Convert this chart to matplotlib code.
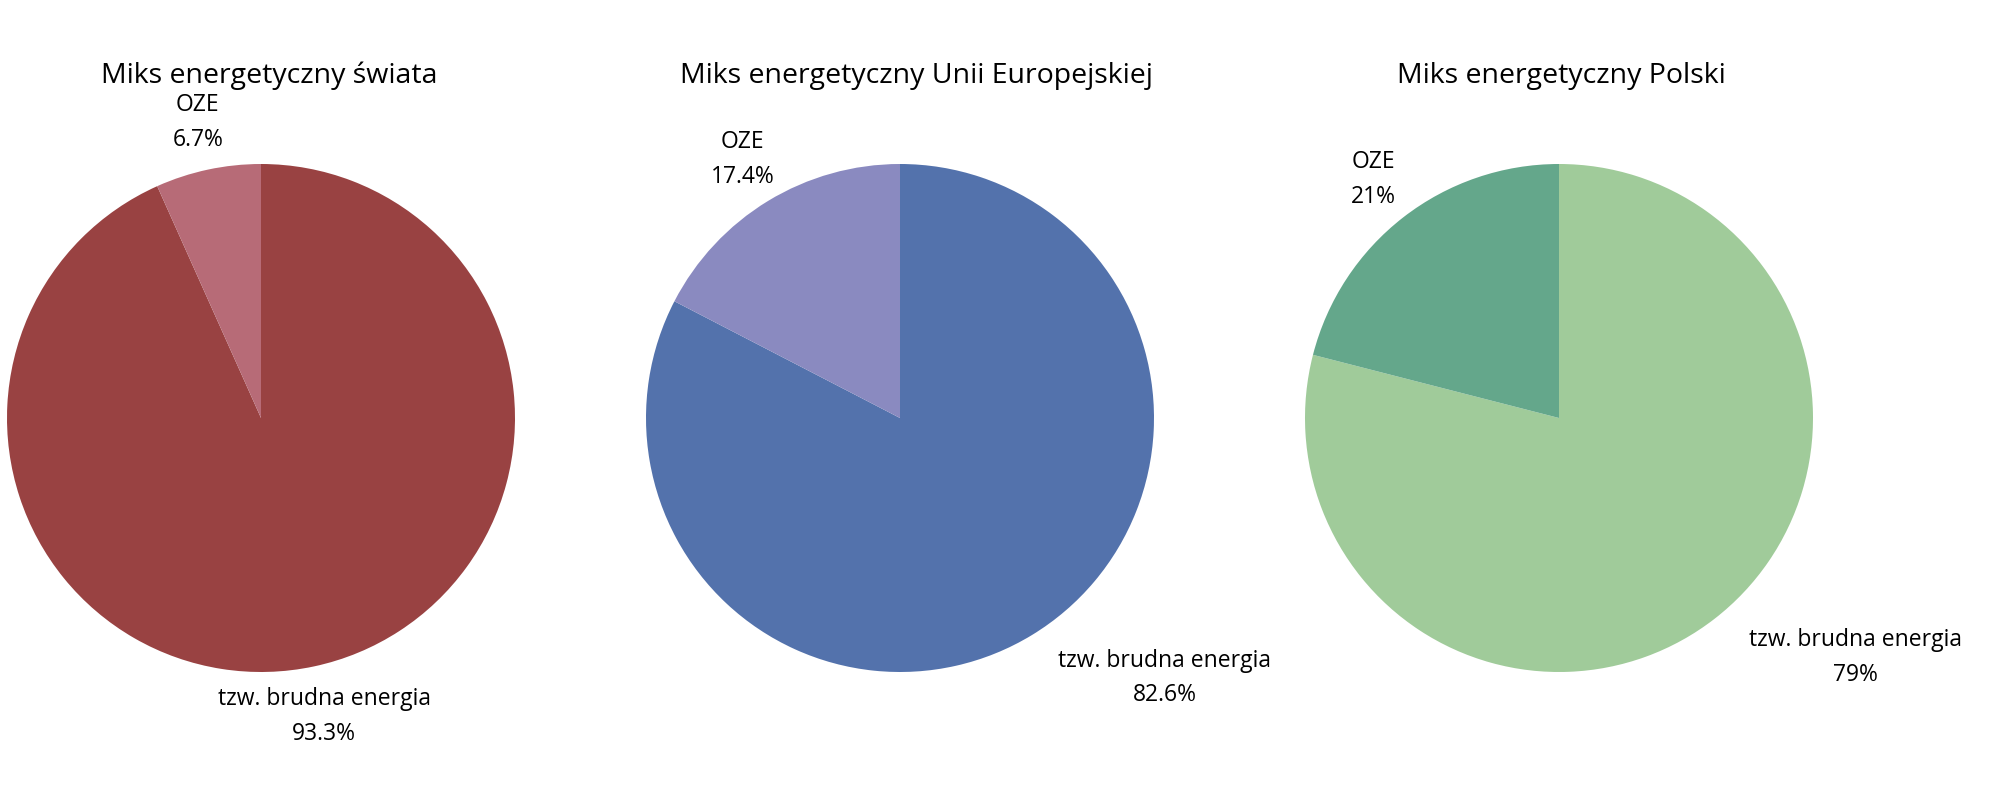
import numpy as np
import matplotlib
matplotlib.use('Agg')
import matplotlib.pyplot as plt

plt.rcParams['font.family'] = ['Open Sans', 'DejaVu Sans']

# dane
titles = ['Miks energetyczny świata', 'Miks energetyczny Unii Europejskiej', 'Miks energetyczny Polski']
categories = ['tzw. brudna energia', 'OZE']
pct_labels = [['93.3%', '6.7%'], ['82.6%', '17.4%'], ['79%', '21%']]
dirty = [93.3, 82.6, 79.0]
oze = [6.7, 17.4, 21.0]
colors = [['#994242', '#b76b77'], ['#5372ac', '#8a8ac0'], ['#a0cb9a', '#64a78b']]

# polozenie etykiety "brudnej energii" (kat, odleglosc) - przesuniete jak w oryginale
dirty_label_pos = [(282, 1.2), (315.5, 1.46), (321, 1.5)]

fig = plt.figure(figsize=(20, 7.91), dpi=100)
centers = [261, 900, 1559]
r = 254
W, H = 2000, 791
cy = 418

for i in range(3):
    ax = fig.add_axes([(centers[i] - r) / W, 1 - (cy + r) / H, 2 * r / W, 2 * r / H])
    vals = [dirty[i], oze[i]]
    labels = [categories[k] + '\n' + pct_labels[i][k] for k in range(2)]
    wedges, texts = ax.pie(vals, labels=labels, colors=colors[i], startangle=90,
                           counterclock=False, labeldistance=1.19,
                           textprops={'fontsize': 16.5, 'linespacing': 1.6})
    for t in texts:
        t.set_ha('center')
        t.set_va('center')
    ang, d = dirty_label_pos[i]
    texts[0].set_position((d * np.cos(np.radians(ang)), d * np.sin(np.radians(ang))))
    ax.set_xlim(-1, 1)
    ax.set_ylim(-1, 1)
    ax.set_aspect('equal')
    ax.axis('off')
    fig.text(centers[i] / W + (0.004 if i == 0 else 0.008 if i == 1 else 0.001), 1 - 76 / H,
             titles[i], ha='center', va='center', fontsize=20.5)

fig.savefig('out.png', dpi=100)
